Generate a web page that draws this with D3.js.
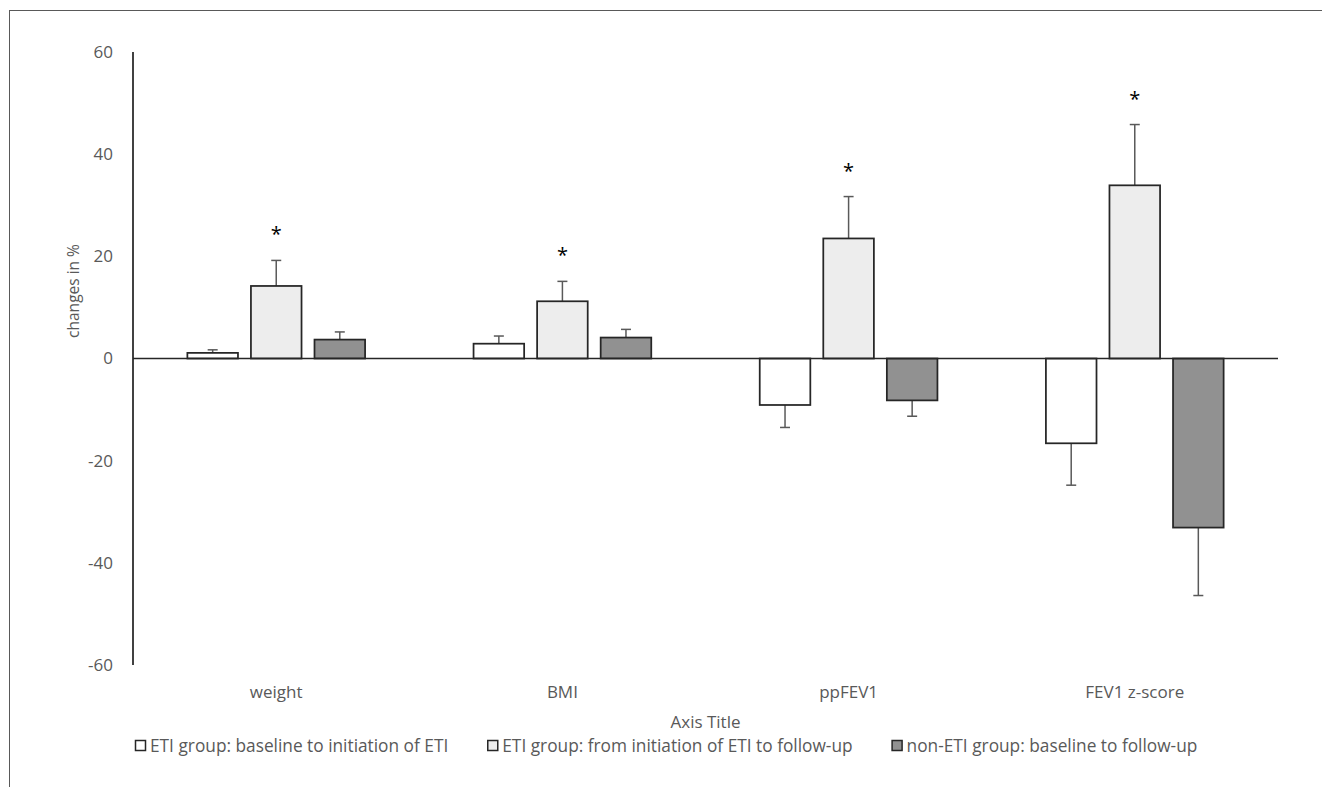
<!DOCTYPE html>
<html>
<head>
<meta charset="utf-8">
<script src="https://cdn.jsdelivr.net/npm/d3@7"></script>
<style>
  body { margin: 0; background: #fff; }
  text { font-family: "Open Sans", sans-serif; }
</style>
</head>
<body>
<div id="chart"></div>
<script>
// Datos
const categories = ["weight", "BMI", "ppFEV1", "FEV1 z-score"];
const seriesNames = [
  "ETI group: baseline to initiation of ETI",
  "ETI group: from initiation of ETI to follow-up",
  "non-ETI group: baseline to follow-up"
];
const etiBaseline = [1.1, 2.9, -9.1, -16.6];
const etiBaselineErr = [0.6, 1.5, 4.4, 8.2];
const etiFollowUp = [14.2, 11.2, 23.5, 33.9];
const etiFollowUpErr = [5.0, 3.9, 8.2, 11.9];
const nonEti = [3.7, 4.1, -8.2, -33.1];
const nonEtiErr = [1.5, 1.6, 3.1, 13.3];
const significant = [false, true, false]; // solo la serie central lleva asterisco
const yTicks = [-60, -40, -20, 0, 20, 40, 60];

const seriesValues = [etiBaseline, etiFollowUp, nonEti];
const seriesErrors = [etiBaselineErr, etiFollowUpErr, nonEtiErr];
const fills = ["#ffffff", "#ededed", "#919191"];

const width = 1322;
const height = 787;
const plot = { left: 133, right: 1278, top: 52, bottom: 665 };

const svg = d3.select("#chart")
  .append("svg")
  .attr("width", width)
  .attr("height", height);

// Borde del área del gráfico (recortado a la derecha y abajo)
svg.append("rect")
  .attr("x", 9.5).attr("y", 10.5)
  .attr("width", 1400).attr("height", 900)
  .attr("fill", "none")
  .attr("stroke", "#595959")
  .attr("stroke-width", 1);

const y = d3.scaleLinear().domain([-60, 60]).range([plot.bottom, plot.top]);

const x0 = d3.scaleBand()
  .domain(categories)
  .range([plot.left, plot.right])
  .paddingInner(0.379)
  .paddingOuter(0.19);

const x1 = d3.scaleBand()
  .domain(d3.range(seriesNames.length))
  .range([0, x0.bandwidth()])
  .paddingInner(0.204);

// Etiquetas del eje Y (sin marcas)
svg.append("g")
  .selectAll("text")
  .data(yTicks)
  .enter()
  .append("text")
  .attr("x", 113)
  .attr("y", d => y(d))
  .attr("dy", "0.35em")
  .attr("text-anchor", "end")
  .attr("fill", "#595959")
  .attr("font-size", 17)
  .text(d => d);

// Título del eje Y
svg.append("text")
  .attr("transform", "translate(79,291) rotate(-90)")
  .attr("text-anchor", "middle")
  .attr("fill", "#595959")
  .attr("font-size", 15.5)
  .text("changes in %");

// Barras
const rows = [];
categories.forEach((c, i) => {
  seriesValues.forEach((vals, s) => {
    rows.push({ cat: c, s: s, v: vals[i], e: seriesErrors[s][i] });
  });
});

const bars = svg.append("g");

// Barras de error (hacia afuera del cero)
rows.forEach(d => {
  const cx = x0(d.cat) + x1(d.s) + x1.bandwidth() / 2;
  const end = d.v >= 0 ? d.v + d.e : d.v - d.e;
  bars.append("line")
    .attr("x1", cx).attr("x2", cx)
    .attr("y1", y(d.v)).attr("y2", y(end))
    .attr("stroke", "#595959").attr("stroke-width", 1.5);
  bars.append("line")
    .attr("x1", cx - 5).attr("x2", cx + 5)
    .attr("y1", y(end)).attr("y2", y(end))
    .attr("stroke", "#595959").attr("stroke-width", 1.5);
});

bars.selectAll("rect")
  .data(rows)
  .enter()
  .append("rect")
  .attr("x", d => x0(d.cat) + x1(d.s))
  .attr("width", x1.bandwidth())
  .attr("y", d => y(Math.max(0, d.v)))
  .attr("height", d => Math.abs(y(d.v) - y(0)))
  .attr("fill", d => fills[d.s])
  .attr("stroke", "#262626")
  .attr("stroke-width", 1.75);

// Asteriscos de significancia
bars.selectAll("text.star")
  .data(rows.filter(d => significant[d.s]))
  .enter()
  .append("text")
  .attr("class", "star")
  .attr("x", d => x0(d.cat) + x1(d.s) + x1.bandwidth() / 2)
  .attr("y", d => y(d.v + d.e) - 19)
  .attr("text-anchor", "middle")
  .attr("font-size", 20)
  .attr("fill", "#000")
  .text("*");

// Eje Y y línea del cero
svg.append("line")
  .attr("x1", plot.left).attr("x2", plot.left)
  .attr("y1", plot.top).attr("y2", plot.bottom)
  .attr("stroke", "#262626").attr("stroke-width", 1.75);

svg.append("line")
  .attr("x1", plot.left).attr("x2", plot.right)
  .attr("y1", y(0)).attr("y2", y(0))
  .attr("stroke", "#262626").attr("stroke-width", 1.5);

// Etiquetas de categorías
svg.append("g")
  .selectAll("text")
  .data(categories)
  .enter()
  .append("text")
  .attr("x", d => x0(d) + x0.bandwidth() / 2)
  .attr("y", 692)
  .attr("dy", "0.35em")
  .attr("text-anchor", "middle")
  .attr("fill", "#595959")
  .attr("font-size", 17)
  .text(d => d);

// Título del eje X
svg.append("text")
  .attr("x", (plot.left + plot.right) / 2)
  .attr("y", 722)
  .attr("dy", "0.35em")
  .attr("text-anchor", "middle")
  .attr("fill", "#595959")
  .attr("font-size", 17)
  .text("Axis Title");

// Leyenda
const legend = svg.append("g");
let lx = 135;
seriesNames.forEach((name, i) => {
  legend.append("rect")
    .attr("x", lx + 0.5).attr("y", 740.5)
    .attr("width", 10).attr("height", 10)
    .attr("fill", fills[i])
    .attr("stroke", "#262626")
    .attr("stroke-width", 1.5);
  const t = legend.append("text")
    .attr("x", lx + 15)
    .attr("y", 746)
    .attr("dy", "0.35em")
    .attr("fill", "#595959")
    .attr("font-size", 17.3)
    .text(name);
  lx += 15 + t.node().getComputedTextLength() + 39;
});
</script>
</body>
</html>
